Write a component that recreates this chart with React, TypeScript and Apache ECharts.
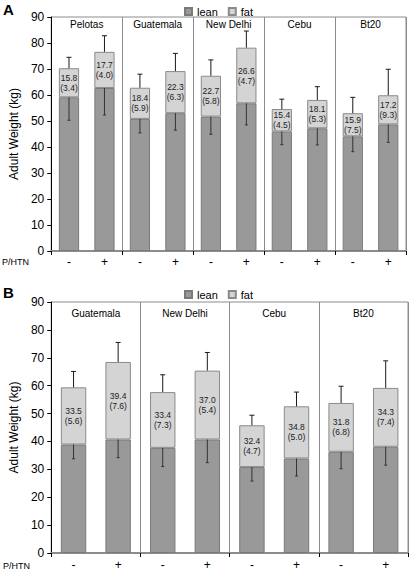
import React, { useEffect, useRef } from "react";
import * as echarts from "echarts";

const groupsA = ["Pelotas", "Guatemala", "New Delhi", "Cebu", "Bt20"];
const groupsB = ["Guatemala", "New Delhi", "Cebu", "Bt20"];
const signsA = ["-", "+", "-", "+", "-", "+", "-", "+", "-", "+"];
const signsB = ["-", "+", "-", "+", "-", "+", "-", "+"];

// Panel A
const leanA = [59.1, 62.7, 50.8, 53.0, 51.7, 56.8, 46.0, 47.2, 44.1, 48.7];
const totalA = [70.3, 76.6, 62.8, 69.2, 67.4, 78.2, 54.6, 58.1, 53.0, 59.9];
const upperA = [74.5, 82.8, 68.0, 76.0, 73.5, 84.6, 58.4, 63.2, 59.1, 69.9];
const lowerA = [50.3, 52.3, 45.4, 46.5, 44.9, 48.5, 40.9, 40.8, 38.2, 41.8];
const pctA = ["15.8", "17.7", "18.4", "22.3", "22.7", "26.6", "15.4", "18.1", "15.9", "17.2"];
const sdA = ["3.4", "4.0", "5.9", "6.3", "5.8", "4.7", "4.5", "5.3", "7.5", "9.3"];

// Panel B
const leanB = [38.9, 40.7, 37.7, 40.7, 30.8, 33.9, 36.3, 38.1];
const totalB = [59.4, 68.5, 57.7, 65.4, 45.8, 52.6, 53.8, 59.2];
const upperB = [65.1, 75.5, 63.9, 71.9, 49.4, 57.7, 59.8, 68.9];
const lowerB = [33.8, 34.2, 31.0, 32.4, 25.8, 27.6, 30.2, 31.5];
const pctB = ["33.5", "39.4", "33.4", "37.0", "32.4", "34.8", "31.8", "34.3"];
const sdB = ["5.6", "7.6", "7.3", "5.4", "4.7", "5.0", "6.8", "7.4"];

const FONT = "'Liberation Sans', Arial, sans-serif";
const LEAN_COLOR = "#999999";
const FAT_COLOR = "#d4d4d4";
const FRAME = "#8c8c8c";

function errorRender(params: any, api: any) {
  const x = api.value(0);
  const top = api.coord([x, api.value(1)]);
  const up = api.coord([x, api.value(2)]);
  const lean = api.coord([x, api.value(3)]);
  const low = api.coord([x, api.value(4)]);
  const cap = 2.5;
  const st = { stroke: "#1a1a1a", lineWidth: 1 };
  const st2 = { stroke: "#333333", lineWidth: 1 };
  return {
    type: "group",
    children: [
      { type: "line", shape: { x1: top[0], y1: top[1], x2: up[0], y2: up[1] }, style: st },
      { type: "line", shape: { x1: up[0] - cap, y1: up[1], x2: up[0] + cap, y2: up[1] }, style: st },
      { type: "line", shape: { x1: lean[0], y1: lean[1], x2: low[0], y2: low[1] }, style: st2 },
      { type: "line", shape: { x1: low[0] - 1.5, y1: low[1], x2: low[0] + 1.5, y2: low[1] }, style: st2 },
    ],
  };
}

function xAxes(gridIndex: number, signs: string[], groups: string[], labelMargin: number, titleMargin: number) {
  return [
    {
      gridIndex,
      type: "category",
      data: signs,
      axisLine: { show: true, lineStyle: { color: FRAME, width: 2 } },
      axisTick: { show: true, interval: (i: number) => i % 2 === 0, length: 4, lineStyle: { color: "#000" } },
      splitLine: { show: true, interval: (i: number) => i % 2 === 0, lineStyle: { color: FRAME, width: 1 } },
      axisLabel: { interval: 0, color: "#000", fontSize: 12, margin: labelMargin, fontFamily: FONT },
    },
    {
      gridIndex,
      type: "category",
      position: "top",
      data: groups,
      axisLine: { show: false },
      axisTick: { show: false },
      splitLine: { show: false },
      axisLabel: { inside: true, interval: 0, margin: titleMargin, fontSize: 10, color: "#000", fontFamily: FONT },
    },
  ];
}

function yAxis(gridIndex: number) {
  return {
    gridIndex,
    type: "value",
    min: 0,
    max: 90,
    interval: 10,
    name: "Adult Weight (kg)",
    nameLocation: "middle",
    nameGap: 21,
    nameTextStyle: { fontSize: 12, color: "#000", fontFamily: FONT },
    axisLine: { show: true, lineStyle: { color: "#000", width: 1 } },
    axisTick: { show: true, length: 4, lineStyle: { color: "#000" } },
    axisLabel: { fontSize: 12, color: "#000", margin: 7, fontFamily: FONT },
    splitLine: { show: false },
  };
}

function seriesFor(idx: number, lean: number[], total: number[], upper: number[], lower: number[], pct: string[], sd: string[]) {
  const xi = idx * 2;
  return [
    {
      name: "lean",
      type: "bar",
      xAxisIndex: xi,
      yAxisIndex: idx,
      stack: "s" + idx,
      barWidth: "57%",
      data: lean,
      itemStyle: { color: LEAN_COLOR, borderColor: "#7a7a7a", borderWidth: 1 },
    },
    {
      name: "fat",
      type: "bar",
      xAxisIndex: xi,
      yAxisIndex: idx,
      stack: "s" + idx,
      barWidth: "57%",
      data: total.map((t, i) => +(t - lean[i]).toFixed(2)),
      itemStyle: { color: FAT_COLOR, borderColor: "#8a8a8a", borderWidth: 1 },
      label: {
        show: true,
        position: "inside",
        formatter: (p: any) => `${pct[p.dataIndex]}\n(${sd[p.dataIndex]})`,
        fontSize: 8.5,
        lineHeight: 10,
        color: "#222",
        textBorderWidth: 0,
        textBorderColor: "transparent",
        fontFamily: FONT,
      },
    },
    {
      type: "custom",
      xAxisIndex: xi,
      yAxisIndex: idx,
      z: 5,
      renderItem: errorRender,
      encode: { x: 0, y: [1, 2, 3, 4] },
      data: lean.map((l, i) => [i, total[i], upper[i], l, lower[i]]),
    },
  ];
}

function legend(top: number) {
  return {
    data: ["lean", "fat"],
    left: 179,
    top,
    icon: "rect",
    itemWidth: 7,
    itemHeight: 7,
    itemGap: 10,
    textStyle: { fontSize: 11, color: "#000", fontFamily: FONT },
  };
}

export default function App() {
  const ref = useRef<HTMLDivElement>(null);
  useEffect(() => {
    if (!ref.current) return;
    const chart = echarts.init(ref.current, undefined, { renderer: "svg" });
    chart.setOption({
      animation: false,
      backgroundColor: "#fff",
      textStyle: { fontFamily: FONT },
      grid: [
        { left: 35, right: 4, top: 17, bottom: 320, show: true, borderColor: FRAME, borderWidth: 1, backgroundColor: "#fff" },
        { left: 35, right: 2, top: 302, bottom: 17, show: true, borderColor: FRAME, borderWidth: 1, backgroundColor: "#fff" },
      ],
      legend: [legend(1), legend(284)],
      xAxis: [...xAxes(0, signsA, groupsA, 5, 2), ...xAxes(1, signsB, groupsB, 6, 6)],
      yAxis: [yAxis(0), yAxis(1)],
      series: [
        ...seriesFor(0, leanA, totalA, upperA, lowerA, pctA, sdA),
        ...seriesFor(1, leanB, totalB, upperB, lowerB, pctB, sdB),
      ],
      graphic: [
        { type: "text", left: 3, top: 2, style: { text: "A", font: `bold 15px ${FONT}`, fill: "#000" } },
        { type: "text", left: 3, top: 285, style: { text: "B", font: `bold 15px ${FONT}`, fill: "#000" } },
        { type: "text", left: 2, top: 257, style: { text: "P/HTN", font: `9px ${FONT}`, fill: "#000" } },
        { type: "text", left: 3, top: 561, style: { text: "P/HTN", font: `9px ${FONT}`, fill: "#000" } },
      ],
    });
    return () => chart.dispose();
  }, []);
  return <div ref={ref} style={{ position: "fixed", left: 0, top: 0, width: 410, height: 571 }} />;
}
